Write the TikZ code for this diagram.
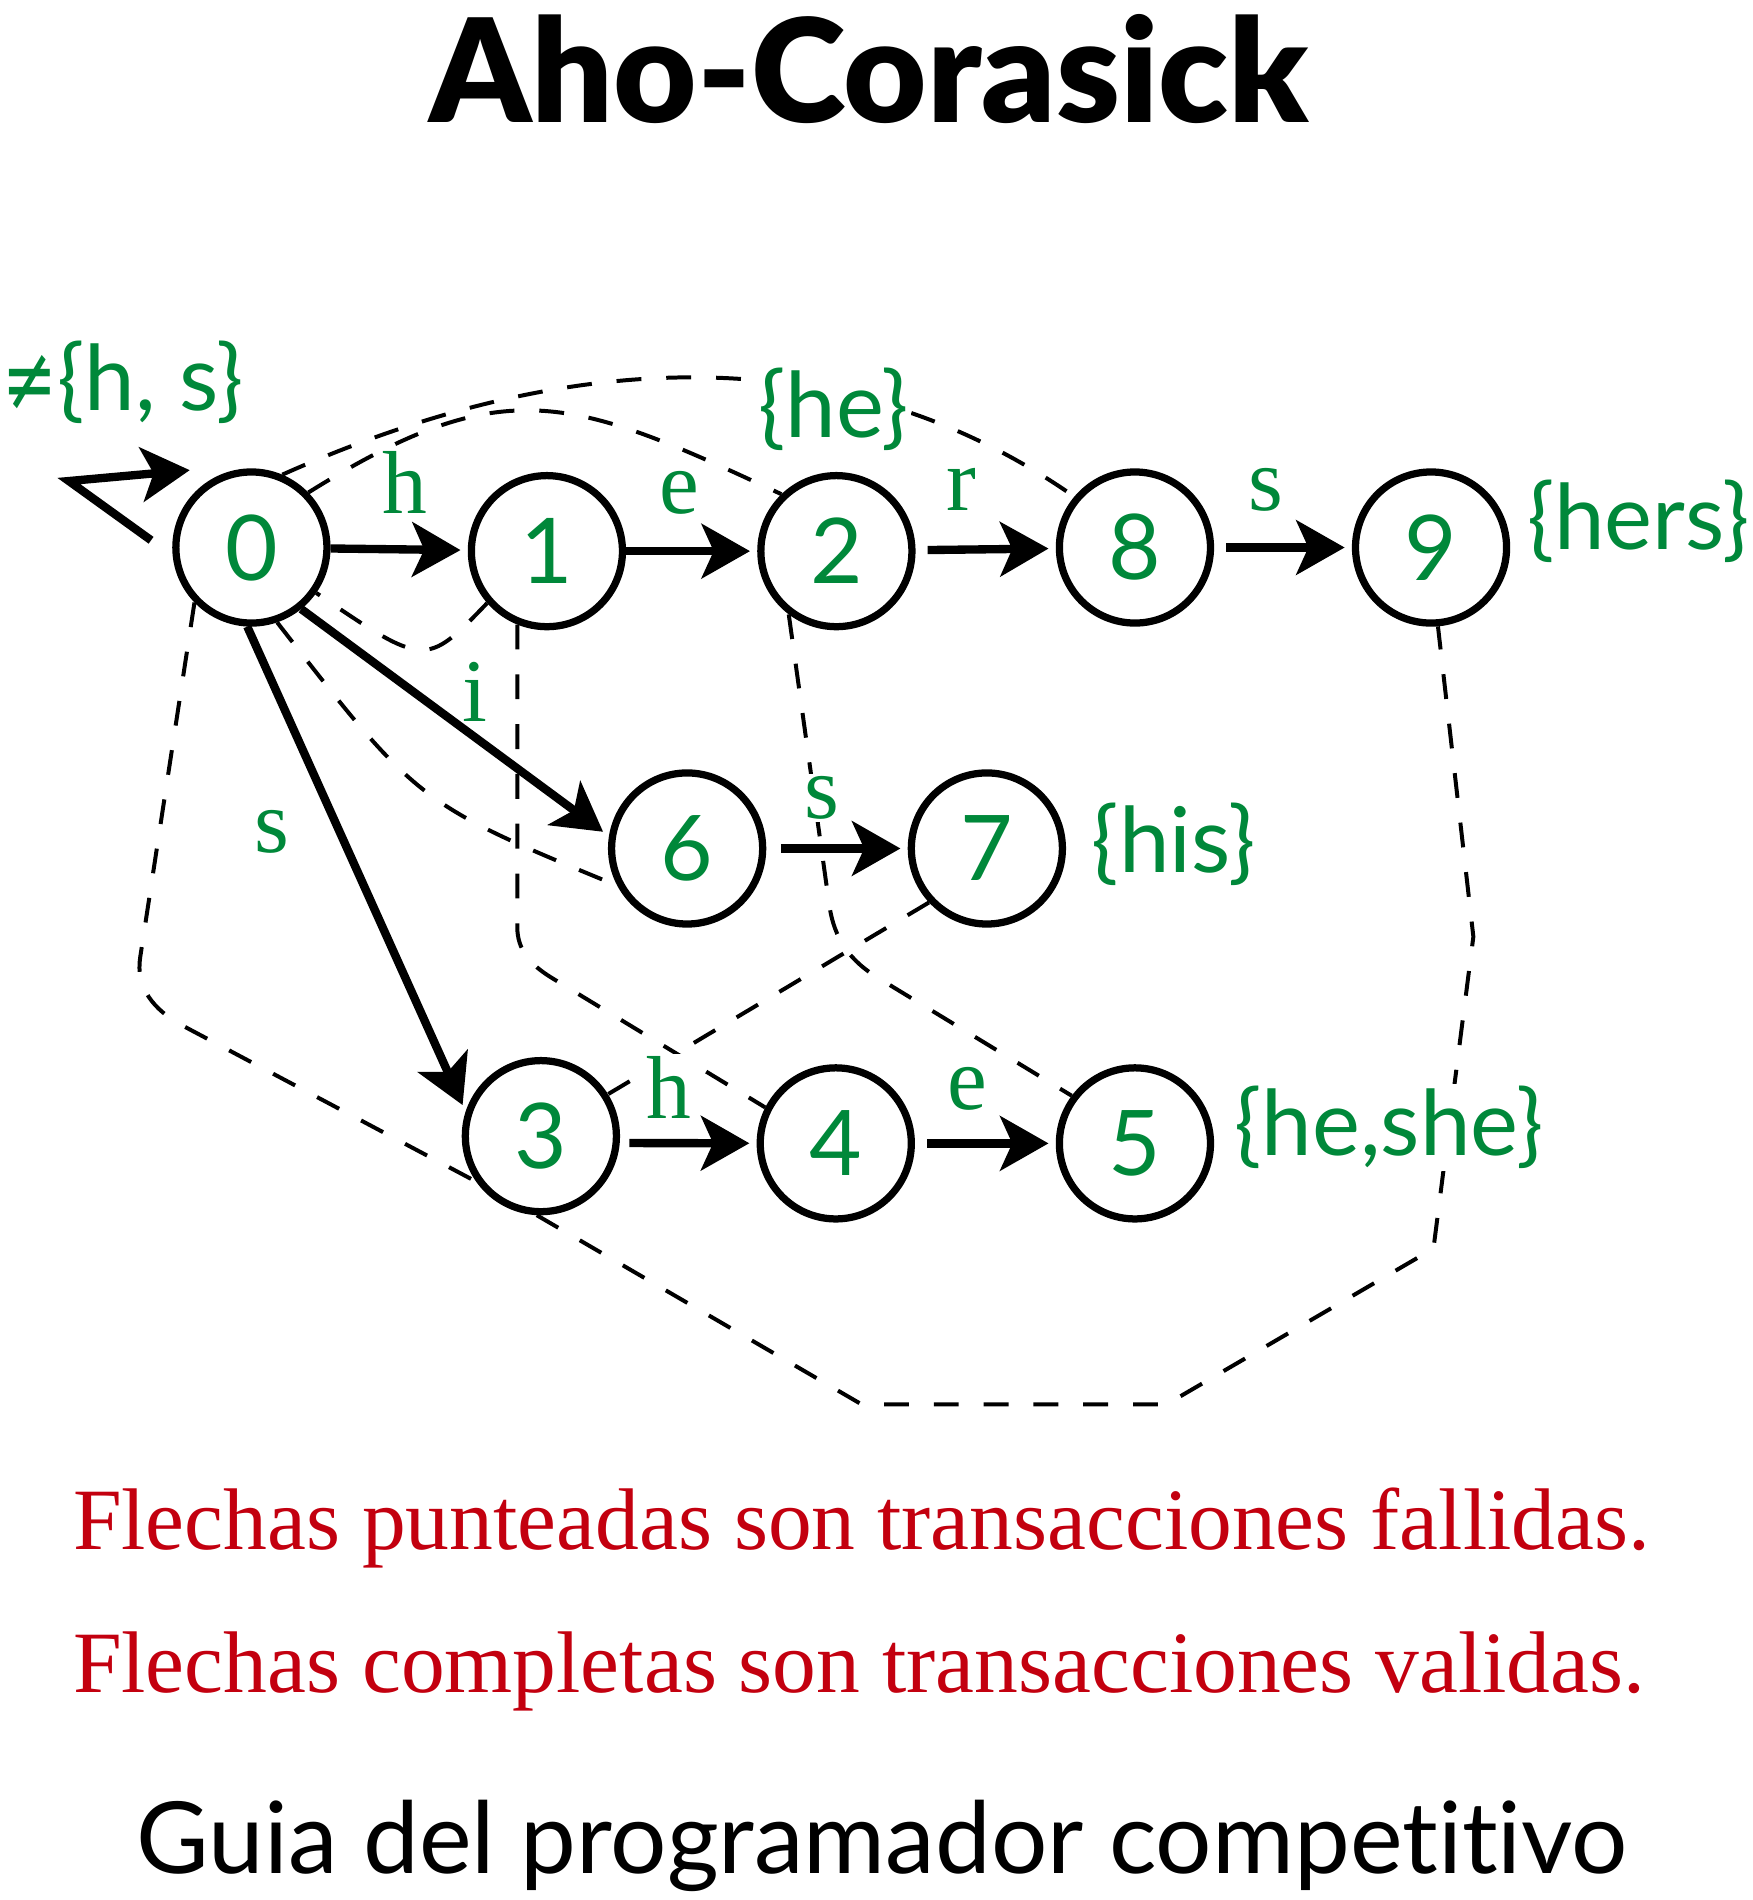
\documentclass[tikz,border=0pt]{standalone}
\usepackage{fontspec}
\usepackage{graphicx}
\setmainfont{Lato}[Ligatures=NoCommon]
\newfontfamily\titlefont{Lato Black}
\newfontfamily\serifF{Liberation Serif}
\newfontfamily\symF{DejaVu Sans}
\usetikzlibrary{arrows.meta}
\definecolor{lgreen}{RGB}{0,136,58}
\definecolor{lred}{RGB}{195,0,15}
\begin{document}
\begin{tikzpicture}[x=0.5pt,y=-0.5pt,
  state/.style={circle,draw,line width=3pt,minimum size=62.5pt,inner sep=0pt,fill=white,text=lgreen,font=\fontsize{37.5}{40}\selectfont},
  trans/.style={line width=3.45pt,-{Stealth[length=20pt,width=22.5pt,inset=5pt]},shorten >=3pt},
  fail/.style={line width=1.65pt,dash pattern=on 10.3pt off 10.3pt},
  elab/.style={text=lgreen,font=\serifF\fontsize{37}{40}\selectfont,anchor=base,fill=white,inner sep=1pt},
  outlab/.style={text=lgreen,font=\fontsize{37.5}{40}\selectfont,anchor=base west,fill=white,inner sep=1pt},
  bigtext/.style={anchor=base,inner sep=0pt}
]
\useasboundingbox (0,0) rectangle (1450,1572);

% title
\node[bigtext,font=\titlefont\fontsize{59.5}{62}\selectfont] (title) at (719,101) {Aho-Corasick};

% states
\node[state] (n0) at (208,453) {0};
\node[state] (n1) at (452.5,456) {1};
\node[state] (n2) at (692,456) {2};
\node[state] (n8) at (939,453) {8};
\node[state] (n9) at (1184,453) {9};
\node[state] (n6) at (568.5,702) {6};
\node[state] (n7) at (816.5,702) {7};
\node[state] (n3) at (447.5,940) {3};
\node[state] (n4) at (691.5,946) {4};
\node[state] (n5) at (939,946) {5};

% failure links
\draw[fail] (n1.221) .. controls (352,552) .. (n0.-35);
\draw[fail] (n0.44) to[out=32,in=155,looseness=1.25] (n2.134);
\draw[fail] (n0.67) to[out=24,in=145,looseness=0.95] (n8.140);
\draw[fail] (n0.-71) .. controls (346,665) .. (n6.208);
\draw[fail] (n1.-112) -- ++(0,250) to[out=-90,in=148] ++(28,42) -- (n4.153);
\draw[fail] (n2.-127) -- (686,748) to[out=-82,in=149] (728,810) -- (n5.143);
\draw[fail] (n7.223) -- (n3.32);
\draw[fail] (n0.224) -- (116,792) to[out=-99,in=151] (150,848) -- (n3.215);
\draw[fail] (n3.-93) -- (713,1162) -- (965,1162) -- (1186,1033) -- (1219,775) -- (n9.-85);

% edge labels
\node[elab] (lh01) at (335,425) {h};
\node[elab] (le12) at (562,425) {e};
\node[elab] (lr28) at (795,422) {r};
\node[elab] (ls89) at (1047,422) {s};
\node[elab] (li06) at (393,597) {i};
\node[elab] (ls03) at (225,705) {s};
\node[elab] (ls67) at (680,677) {s};
\node[elab] (lh34) at (553,925) {h};
\node[elab] (le45) at (800,918) {e};

% output labels
\node[outlab] (o0) at (0,340) {\scalebox{0.72}[1]{\symF ≠}\{h, s\}};
\node[outlab] (ohe) at (625,362) {\{he\}};
\node[outlab] (ohers) at (1261,455) {\{hers\}};
\node[outlab] (ohis) at (901,722) {\{his\}};
\node[outlab] (ohs) at (1019,956) {\{he,she\}};

% valid transitions
\coordinate (s0) at (125,447);
\coordinate (s1) at (57,398);
\coordinate (s2) at (157,389);
\draw[trans,shorten >=0pt,miter limit=20] (s0) -- (s1) -- (s2);
\draw[trans] (n0) -- (n1);
\draw[trans] (n1) -- (n2);
\draw[trans,shorten <=5pt] (n2) -- (n8);
\draw[trans,shorten <=5pt] (n8) -- (n9);
\draw[trans,shorten <=6pt] (n6) -- (n7);
\draw[trans,shorten <=4pt] (n3.-5) -- (n4);
\draw[trans,shorten <=5pt] (n4) -- (n5);
\draw[trans] (n0.-51) -- (n6.171);
\draw[trans] (n0.-93) -- (n3.162);

% notes
\node[bigtext,anchor=base west,text=lred,font=\serifF\fontsize{36.2}{40}\selectfont] (note1) at (60,1282) {Flechas punteadas son transacciones fallidas.};
\node[bigtext,anchor=base west,text=lred,font=\serifF\fontsize{36.2}{40}\selectfont] (note2) at (60,1400) {Flechas completas son transacciones validas.};
\node[bigtext,font=\fontsize{41.2}{44}\selectfont] (guia) at (730,1550) {Guia del programador competitivo};
\end{tikzpicture}
\end{document}
